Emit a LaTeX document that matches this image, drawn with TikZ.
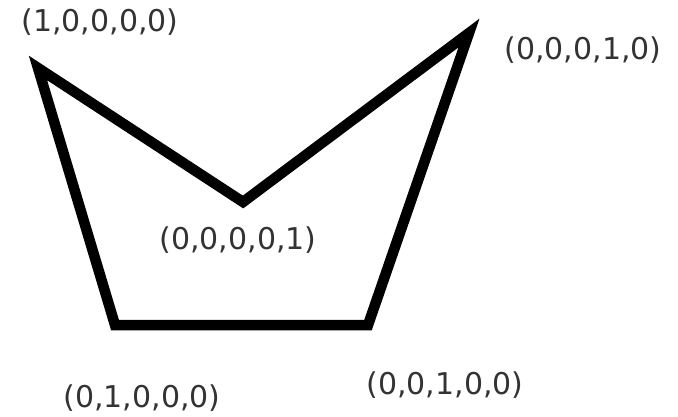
\documentclass[tikz,border=0pt]{standalone}
\usepackage{fontspec}
\setmainfont{DejaVu Sans}
\begin{document}
\begin{tikzpicture}[x=1pt,y=-1pt,
  lbl/.style={text=black!80,font=\fontsize{30}{33}\selectfont,inner sep=0pt,anchor=center},
  edge/.style={line width=10.5pt,line join=miter,line cap=round}]
\useasboundingbox (0,0) rectangle (678,417);
\coordinate (a) at (38,68);
\coordinate (d) at (469,33);
\coordinate (e) at (243,202);
\coordinate (b) at (115,325);
\coordinate (c) at (368,325);
\draw[edge] (b) -- (a) -- (e) -- (d) -- (c) -- cycle;
\node[lbl] (la) at (100,22) {(1,0,0,0,0)};
\node[lbl] (ld) at (583,50) {(0,0,0,1,0)};
\node[lbl] (le) at (238,240) {(0,0,0,0,1)};
\node[lbl] (lb) at (142,398) {(0,1,0,0,0)};
\node[lbl] (lc) at (445,385) {(0,0,1,0,0)};
\end{tikzpicture}
\end{document}
